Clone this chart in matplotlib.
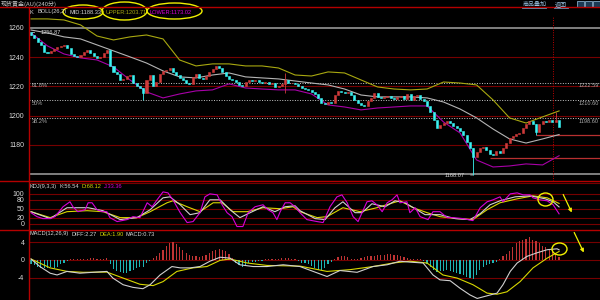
import matplotlib
matplotlib.use('Agg')
import matplotlib.pyplot as plt
from matplotlib.patches import Ellipse, Rectangle, FancyArrowPatch
import numpy as np

plt.rcParams['font.family'] = ['Liberation Sans', 'DejaVu Sans', 'Noto Sans CJK SC']

# ---------------- data ----------------
opens = [1257.5, 1255.2, 1253.2, 1250.4, 1248.4, 1243.6, 1242.9, 1244.3, 1245.6, 1247.0,
         1247.7, 1248.4, 1246.3, 1242.2, 1240.8, 1240.2, 1241.5, 1243.6, 1245.0, 1242.9,
         1240.8, 1239.5, 1240.2, 1242.9, 1245.0, 1234.0, 1229.9, 1228.5, 1224.4, 1225.1,
         1227.1, 1227.8, 1222.3, 1220.3, 1218.9, 1215.5, 1224.4, 1227.8, 1220.3, 1223.0,
         1228.5, 1230.6, 1231.2, 1232.6, 1229.9, 1227.8, 1225.8, 1224.4, 1222.3, 1221.7,
         1226.5, 1228.5, 1225.8, 1225.1, 1227.1, 1229.9, 1231.9, 1234.0, 1232.6, 1229.9,
         1227.1, 1225.1, 1224.4, 1223.0, 1221.0, 1220.3, 1223.0, 1224.4, 1223.7, 1224.4,
         1223.0, 1222.3, 1223.0, 1221.7, 1222.3, 1219.6, 1220.3, 1221.7, 1224.4, 1222.3,
         1222.3, 1221.7, 1220.3, 1218.9, 1218.2, 1217.6, 1216.2, 1214.8, 1212.1, 1208.6,
         1208.0, 1209.3, 1208.6, 1214.1, 1216.9, 1216.2, 1215.5, 1216.2, 1214.1, 1210.7,
         1208.6, 1207.3, 1206.6, 1210.0, 1212.1, 1215.5, 1212.8, 1212.1, 1212.8, 1213.4,
         1212.1, 1211.4, 1212.8, 1213.4, 1211.4, 1214.8, 1210.7, 1213.4, 1214.1, 1211.4,
         1210.0, 1206.6, 1202.5, 1197.0, 1191.5, 1193.6, 1194.9, 1196.3, 1194.9, 1192.9,
         1191.5, 1189.5, 1186.7, 1181.9, 1177.8, 1171.7, 1175.1, 1177.8, 1178.5, 1176.5,
         1173.7, 1173.0, 1175.8, 1174.4, 1177.8, 1181.2, 1184.7, 1186.0, 1187.4, 1188.1,
         1191.5, 1194.3, 1196.3, 1194.3, 1188.8, 1194.3, 1196.3, 1195.6, 1197.0, 1195.6,
         1197.0]
closes = [1255.2, 1253.2, 1250.4, 1248.4, 1243.6, 1242.9, 1244.3, 1245.6, 1247.0, 1247.7,
          1248.4, 1246.3, 1242.2, 1240.8, 1240.2, 1241.5, 1243.6, 1245.0, 1242.9, 1240.8,
          1239.5, 1240.2, 1242.9, 1245.0, 1234.0, 1229.9, 1228.5, 1224.4, 1225.1, 1227.1,
          1227.8, 1222.3, 1220.3, 1218.9, 1215.5, 1224.4, 1227.8, 1220.3, 1223.0, 1228.5,
          1230.6, 1231.2, 1232.6, 1229.9, 1227.8, 1225.8, 1224.4, 1222.3, 1221.7, 1226.5,
          1228.5, 1225.8, 1225.1, 1227.1, 1229.9, 1231.9, 1234.0, 1232.6, 1229.9, 1227.1,
          1225.1, 1224.4, 1223.0, 1221.0, 1220.3, 1223.0, 1224.4, 1223.7, 1224.4, 1223.0,
          1222.3, 1223.0, 1221.7, 1222.3, 1219.6, 1220.3, 1221.7, 1224.4, 1222.3, 1222.3,
          1221.7, 1220.3, 1218.9, 1218.2, 1217.6, 1216.2, 1214.8, 1212.1, 1208.6, 1208.0,
          1209.3, 1208.6, 1214.1, 1216.9, 1216.2, 1215.5, 1216.2, 1214.1, 1210.7, 1208.6,
          1207.3, 1206.6, 1210.0, 1212.1, 1215.5, 1212.8, 1212.1, 1212.8, 1213.4, 1212.1,
          1211.4, 1212.8, 1213.4, 1211.4, 1214.8, 1210.7, 1213.4, 1214.1, 1211.4, 1210.0,
          1206.6, 1202.5, 1197.0, 1191.5, 1193.6, 1194.9, 1196.3, 1194.9, 1192.9, 1191.5,
          1189.5, 1186.7, 1181.9, 1177.8, 1171.7, 1175.1, 1177.8, 1178.5, 1176.5, 1173.7,
          1173.0, 1175.8, 1174.4, 1177.8, 1181.2, 1184.7, 1186.0, 1187.4, 1188.1, 1191.5,
          1194.3, 1196.3, 1194.3, 1188.8, 1194.3, 1196.3, 1195.6, 1197.0, 1195.6, 1197.0,
          1192.2]
wick_idx = [0, 34, 77, 134, 153, 159]
wick_high = [1256.87, 1218.9, 1229.2, 1177.8, 1194.3, 1202.5]
wick_low = [1255.2, 1210.7, 1215.5, 1159.3, 1186.7, 1197.0]

band_idx = [0, 5, 10, 15, 20, 25, 30, 35, 40, 45, 50, 55, 60, 65, 70, 75, 80, 85, 90, 95,
            100, 105, 110, 115, 120, 125, 130, 135, 140, 145, 150, 155, 160]
boll_upper = [1266.2, 1266.2, 1265.5, 1262.1, 1254.5, 1251.8, 1253.9, 1255.2, 1252.5, 1238.1,
              1234.0, 1235.4, 1235.4, 1234.0, 1234.0, 1232.6, 1227.8, 1227.1, 1229.9, 1229.2,
              1224.4, 1219.6, 1218.2, 1217.6, 1218.2, 1223.0, 1222.3, 1221.0, 1210.7, 1198.4,
              1194.9, 1199.1, 1203.2]
boll_mid = [1258.6, 1256.6, 1253.9, 1252.5, 1248.4, 1244.3, 1240.2, 1236.0, 1230.6, 1226.5,
            1225.8, 1227.8, 1229.2, 1226.5, 1225.8, 1225.1, 1223.7, 1222.3, 1221.0, 1218.2,
            1214.1, 1212.8, 1212.8, 1212.8, 1212.1, 1209.3, 1204.5, 1198.4, 1190.8, 1184.0,
            1181.2, 1184.0, 1187.0]
boll_lower = [1256.6, 1247.7, 1242.2, 1239.5, 1238.1, 1233.3, 1224.4, 1216.2, 1212.1, 1214.8,
              1216.9, 1217.6, 1221.7, 1218.9, 1218.2, 1217.6, 1217.6, 1214.8, 1207.3, 1205.9,
              1203.9, 1205.2, 1205.9, 1206.6, 1206.6, 1195.6, 1188.1, 1169.6, 1164.8, 1165.5,
              1166.9, 1166.2, 1172.5]

price_ticks = [1260, 1240, 1220, 1200, 1180]
fib_levels = [1222.59, 1210.60, 1198.60]
fib_names = ['61.8%', '50%', '38.2%']
support_levels = [1186.5, 1170.8]
support_start = [153, 139]
cursor_idx = 158.2
high_label = '1256.87'
low_label = '1168.07'

k_idx = [0, 5.8, 10.9, 17.3, 21.8, 27, 32.1, 36.1, 40, 42.1, 45.2, 48.2, 51.2, 54.2, 57.3,
         60.3, 63.3, 66.4, 70.3, 73.9, 77, 80, 81.5, 86.1, 89.1, 92.1, 94.5, 98.2, 100.3, 103.3,
         107.3, 110.3, 113.3, 116.4, 119.4, 123.9, 128.5, 133, 136.1, 139.1, 142.1, 146.7,
         151.2, 155.8, 158.2, 160]
k_val = [40.6, 17.5, 53.8, 53.8, 43.9, 14.2, 20.8, 47.2, 86.8, 90.1, 63.7, 30.7, 37.3, 80.2,
         80.2, 47.2, 20.8, 37.3, 57.1, 40.6, 57.1, 60.4, 43.9, 17.5, 14.2, 53.8, 73.6, 37.3,
         37.3, 67, 57.1, 76.9, 70.3, 50.5, 30.7, 30.7, 17.5, 14.2, 34, 63.7, 76.9, 90.1, 93.4,
         83.5, 73.6, 56.5]
d_idx = [0, 5.8, 10.9, 17, 21.8, 27, 32.1, 36.1, 41.2, 43, 47.3, 51.2, 55.2, 57.9, 61.2,
         65.5, 70.3, 75.5, 79.4, 81.5, 86.7, 89.7, 94.5, 99.7, 104.8, 109.7, 111.8, 115.8,
         120, 123.9, 129.1, 133.9, 138.2, 142.1, 147.3, 152.1, 156.4, 160]
d_val = [40.6, 20.8, 40.6, 43.9, 40.6, 20.8, 20.8, 40.6, 70.3, 76.9, 57.1, 40.6, 70.3, 70.3,
         40.6, 40.6, 53.8, 50.5, 57.1, 40.6, 20.8, 24.1, 53.8, 40.6, 53.8, 70.3, 76.9, 53.8,
         37.3, 24.1, 17.5, 14.2, 47.2, 70.3, 83.5, 93.4, 86.8, 68.1]
j_idx = [0, 1.8, 3.6, 5.8, 7.3, 9.7, 11.8, 12.7, 14.2, 16.4, 17.3, 18.5, 20, 21.5, 23, 23.9,
         26.1, 29.1, 30.9, 33, 33.9, 35.2, 36.7, 38.2, 40, 41.5, 43, 45.2, 47.3, 49.1, 51.2,
         52.7, 54.2, 56.4, 57.9, 59.4, 60.9, 62.4, 64.2, 65.8, 67.9, 70.3, 71.8, 73.3, 74.5,
         75.5, 77, 78.5, 80, 81.5, 83.6, 86.7, 88.5, 90.6, 92.7, 94.2, 95.8, 97.6, 99.1, 100.3,
         101.8, 103.3, 104.8, 106.4, 107.9, 109.4, 110.9, 111.8, 113.9, 114.8, 116.4, 117.9,
         120.3, 121.8, 123.9, 126.1, 127.9, 130.9, 133.9, 136.1, 138.2, 140, 142.1, 143,
         145.2, 147.3, 149.1, 151.2, 152.1, 154.2, 156.4, 158.2, 160]
j_val = [37.3, 24.1, 17.5, 17.5, 24.1, 57.1, 73.6, 57.1, 40.6, 47.2, 70.3, 70.3, 47.2, 40.6,
         40.6, 20.8, 7.6, 14.2, 24.1, 20.8, 40.6, 70.3, 57.1, 80.2, 106.6, 103.3, 80.2, 37.3,
         4.3, 7.6, 37.3, 90.1, 100, 96.7, 63.7, 37.3, 24.1, -8.9, -8.9, 37.3, 57.1, 63.7, 47.2,
         37.3, 14.2, 40.6, 70.3, 70.3, 57.1, 37.3, 14.2, 7.6, 4.3, 57.1, 90.1, 96.7, 70.3,
         24.1, 7.6, 37.3, 73.6, 76.9, 63.7, 40.6, 70.3, 80.2, 96.7, 70.3, 73.6, 37.3, 53.8,
         24.1, 14.2, 40.6, 40.6, 20.8, 20.8, 17.5, 10.9, 53.8, 73.6, 80.2, 90.1, 73.6, 100,
         103.3, 96.7, 96.7, 86.8, 80.2, 76.9, 63.7, 33.4]
kdj_ticks = [100, 80, 50, 20, 0]

macd_hist = [-1.0, -1.2, -1.6, -1.8, -1.9, -1.8, -1.6, -1.8, -1.5, -1.0,
             -0.7, -0.3, 0.1, 0.2, 0.2, 0.1, 0.2, 0.3, 0.4, 0.4,
             0.3, 0.2, 0.3, 0.5, -1.0, -2.0, -2.4, -2.7, -2.9, -3.0,
             -2.6, -2.2, -1.8, -1.5, -1.6, -0.8, -0.3, 0.4, 0.8, 1.5,
             2.3, 3.1, 3.8, 4.1, 3.6, 3.0, 2.3, 1.5, 1.0, 0.8,
             0.9, 0.7, 0.8, 1.0, 1.5, 1.9, 2.3, 2.5, 2.3, 1.9,
             1.3, 0.4, -0.6, -1.2, -1.5, -1.1, -0.8, -0.5, -0.4, -0.3,
             -0.2, 0.1, 0.2, 0.3, 0.2, 0.3, 0.4, 0.5, 0.4, 0.3,
             0.2, -0.3, -0.6, -0.8, -0.9, -1.3, -1.8, -2.3, -2.3, -1.9,
             -1.0, -0.4, 0.3, 0.6, 0.8, 0.8, 0.6, 0.3, 0.2, 0.2,
             0.4, 0.6, 0.8, 0.9, 0.9, 1.0, 1.1, 1.2, 1.3, 1.3,
             1.2, 1.2, 0.9, 0.6, 0.5, 0.3, 0.2, 0.2, 0.1, -0.3,
             -1.0, -1.6, -2.3, -2.7, -2.6, -2.4, -2.2, -2.5, -2.8, -3.0,
             -3.2, -3.5, -3.8, -4.0, -4.2, -3.3, -2.3, -1.6, -1.2, -0.9,
             -0.6, -0.4, 0.3, 0.8, 1.3, 2.0, 3.0, 3.8, 4.3, 4.6,
             4.8, 5.2, 4.6, 4.2, 3.8, 3.2, 2.8, 2.3, 1.8, 1.3,
             0.73]
diff_idx = [0, 2.7, 5.8, 7.9, 10.9, 14.8, 18.8, 23, 24.8, 27.9, 30.9, 33.9, 36.1, 39.1, 42.7,
            45.2, 48.2, 51.2, 54.2, 57.3, 60.3, 63.3, 67.3, 71.5, 76.4, 81.5, 85.5, 89.7, 93.6,
            98.8, 103.6, 107.9, 111.8, 114.8, 118.8, 121.8, 123.9, 127, 130, 133, 135.2, 138.2,
            141.2, 143, 145.2, 147.3, 150.3, 153.3, 156.4, 159.4, 160]
diff_val = [0.2, -1.5, -3.0, -3.4, -2.6, -3.0, -2.8, -2.6, -4.1, -5.6, -6.2, -6.5, -5.6, -3.4,
            -1.5, -1.8, -1.8, -1.5, -0.3, 0.6, 0.4, -1.1, -1.5, -1.5, -1.1, -1.5, -2.6, -3.75,
            -2.4, -2.8, -1.5, -1.1, -0.3, -0.5, -0.7, -3.4, -4.5, -4.7, -6.4, -7.9, -8.7, -8.1,
            -7.5, -5.6, -2.6, -0.7, 0.8, 1.6, 2.3, 2.5, 2.27]
dea_idx = [0, 5.8, 10.9, 15.8, 23, 27.9, 33, 37, 40, 44.2, 49.1, 53.3, 57.3, 60.3, 65.5, 71.5,
           81.5, 89.7, 96.7, 103.6, 109.7, 114.8, 120, 124.8, 129.1, 133.9, 138.2, 141.2,
           144.2, 148.2, 152.1, 156.4, 160]
dea_val = [0.2, -1.8, -2.6, -2.8, -2.75, -4.1, -5.5, -5.8, -4.9, -2.6, -1.8, -1.5, -0.1, 0.2,
           -0.7, -1.25, -1.4, -2.6, -2.2, -1.5, -0.7, -0.3, -0.7, -3.4, -4.1, -5.6, -7.5,
           -7.75, -7.2, -4.9, -1.8, 0.4, 1.9]
macd_ticks = [4, 0, -4]

# ---------------- style ----------------
W, H = 600, 300
BG = 'black'
RED = '#d03a3a'
CYAN = '#3af2f2'
HRED = '#c03434'
HCYAN = '#1fb4b4'
GRID = '#760000'
SEP = '#b40000'
TXT = '#d8d8d8'
GRAY = '#b4b4b4'
OLIVE = '#a8a810'
PURP = '#a800a8'
YEL = '#d8d800'
MAG = '#d800d8'
ANNO = '#f0f000'
FS = 4.1

fig = plt.figure(figsize=(6, 3), dpi=100, facecolor=BG)


def rect(top, bottom, left=28.5, right=600):
    return [left / W, 1 - bottom / H, (right - left) / W, (bottom - top) / H]


ax = fig.add_axes(rect(16, 181))
kx = fig.add_axes(rect(181, 229.5))
mx = fig.add_axes(rect(229.5, 300))
XL = (-0.76, 172.4)
for a in (ax, kx, mx):
    a.set_facecolor(BG)
    a.set_xlim(*XL)
    for s in a.spines.values():
        s.set_visible(False)
    a.set_xticks([])
    a.tick_params(axis='y', length=0, pad=3.0, labelsize=5.0, labelcolor=TXT)

# ---- main panel ----
ax.set_ylim(1155.2, 1268.2)
ax.set_yticks(price_ticks)
ax.set_yticklabels([str(t) for t in price_ticks])
for v in [1240, 1220, 1200, 1180]:
    ax.axhline(v, color=GRID, lw=0.8, zorder=1)
for v in [1260, 1160]:
    ax.axhline(v, color='#8a8a8a', lw=1.3, zorder=1)
for v, n in zip(fib_levels, fib_names):
    ax.axhline(v, color='#c8c8c8', lw=0.7, ls=(0, (1, 1.6)), zorder=2)
    ax.text(0.2, v - 0.6, n, color='#a8a8a8', fontsize=FS, va='top', ha='left')
    ax.text(172.0, v - 0.6, f'{v:.2f}', color='#a8a8a8', fontsize=FS, va='top', ha='right')
for lv, st in zip(support_levels, support_start):
    ax.hlines(lv, st, XL[1], color='#b83030', lw=0.9, zorder=2)
ax.axvline(cursor_idx, color='#c00000', lw=0.7, ls=(0, (1, 1.5)), zorder=2)

ax.plot(band_idx, boll_upper, color=OLIVE, lw=0.8, zorder=3)
ax.plot(band_idx, boll_mid, color=GRAY, lw=0.8, zorder=3)
ax.plot(band_idx, boll_lower, color=PURP, lw=0.8, zorder=3)

o = np.array(opens)
c = np.array(closes)
ix = np.arange(len(c))
up = c >= o
colors = np.where(up, RED, CYAN)
for wi, wh, wl in zip(wick_idx, wick_high, wick_low):
    ax.vlines(wi, wl, wh, color=colors[wi], lw=0.6, zorder=4)
ax.bar(ix, c - o, bottom=o, width=0.62, color=colors, edgecolor=colors, linewidth=0.4, zorder=5)

ax.annotate(high_label, xy=(0.3, wick_high[0]), xytext=(2.8, wick_high[0]),
            color=TXT, fontsize=FS, va='center', ha='left',
            arrowprops=dict(arrowstyle='-', color=TXT, lw=0.5))
ax.annotate(low_label, xy=(wick_idx[3], wick_low[3]), xytext=(131.5, wick_low[3]),
            color=TXT, fontsize=FS, va='center', ha='right',
            arrowprops=dict(arrowstyle='-', color=TXT, lw=0.5))

# ---- KDJ panel ----
kx.set_ylim(-18.8, 142.9)
kx.set_yticks(kdj_ticks)
kx.set_yticklabels([str(t) for t in kdj_ticks])
for v in kdj_ticks + [136]:
    kx.axhline(v, color=GRID, lw=0.8, zorder=1)
kx.plot(d_idx, d_val, color=YEL, lw=0.8, zorder=3)
kx.plot(k_idx, k_val, color='#d0d0d0', lw=0.8, zorder=4)
kx.plot(j_idx, j_val, color=MAG, lw=0.8, zorder=5)

# ---- MACD panel ----
mx.set_ylim(-9.05, 6.86)
mx.set_yticks(macd_ticks)
mx.set_yticklabels([str(t) for t in macd_ticks])
for v in macd_ticks:
    mx.axhline(v, color=GRID, lw=0.8, zorder=1)
h = np.array(macd_hist)
hcol = np.where(h >= 0, HRED, HCYAN)
mx.bar(ix, h, width=0.35, color=hcol, linewidth=0, zorder=2)
mx.plot(dea_idx, dea_val, color=YEL, lw=0.8, zorder=3)
mx.plot(diff_idx, diff_val, color='#d0d0d0', lw=0.8, zorder=4)

# ---- overlay: frame, headers, annotations ----
ov = fig.add_axes([0, 0, 1, 1])
ov.set_xlim(0, W)
ov.set_ylim(H, 0)
ov.axis('off')
for yy in [7, 181, 229.5]:
    ov.plot([0, W], [yy, yy], color=SEP, lw=1.0)
ov.plot([28.5, 28.5], [7, H], color=SEP, lw=1.0)

cjk = ['Noto Sans CJK SC', 'DejaVu Sans']
ov.text(1, 3.6, '现货黄金(AU)(240分)', color='#c8c8c8', fontsize=4.3, va='center', family=cjk)
ov.text(523, 4, '商品叠加', color='#9cc4e4', fontsize=4.3, va='center', family=cjk)
ov.plot([522, 546], [7.5, 7.5], color='#6c8cac', lw=0.6)
ov.text(555, 4, '返回', color='#9cc4e4', fontsize=4.3, va='center', family=cjk)
ov.plot([554, 568], [7.5, 7.5], color='#6c8cac', lw=0.6)
for bx in [577, 585, 593]:
    ov.add_patch(Rectangle((bx, 1.2), 6.5, 5.5, facecolor='#1c3a54', edgecolor='#9cc4e4', lw=0.5))

renderer = fig.canvas.get_renderer()


def header(y, parts):
    prev_end = 0
    for x, s, col in parts:
        xx = max(x, prev_end + 2.0)
        t = ov.text(xx, y, s, color=col, fontsize=FS, va='center')
        bb = t.get_window_extent(renderer)
        prev_end = bb.x1


header(12, [(30, 'K', TXT), (37, 'BOLL(26,2)', TXT), (70, 'MID:1188.33', TXT),
            (106, 'UPPER:1203.71', OLIVE), (150, 'LOWER:1173.02', MAG)])
header(186.5, [(29, 'KDJ(9,3,3)', TXT), (60, 'K:56.54', TXT), (82, 'D:68.12', YEL),
               (103, 'J:33.36', MAG)])
header(234, [(29, 'MACD(12,26,9)', TXT), (72, 'DIFF:2.27', TXT), (99, 'DEA:1.90', YEL),
             (124, 'MACD:0.73', TXT)])

for (cx, cy, ew, eh) in [(83, 12, 40, 14), (124.5, 11, 45, 18), (174.5, 11, 55, 16),
                         (545.5, 199.5, 15, 13), (559.5, 249, 15, 12)]:
    ov.add_patch(Ellipse((cx, cy), ew, eh, facecolor='none', edgecolor=ANNO, lw=1.0))
for (p0, p1) in [((562, 192), (573, 215)), ((573, 230), (585, 255))]:
    ov.add_patch(FancyArrowPatch(p0, p1, arrowstyle='-|>', mutation_scale=5,
                                 color=ANNO, lw=0.9))

fig.savefig('out.png', dpi=100, facecolor=BG)
